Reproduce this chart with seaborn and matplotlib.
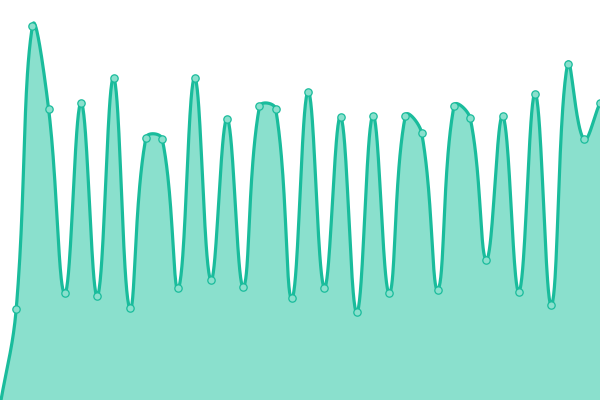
import numpy as np
import pandas as pd
import matplotlib
matplotlib.use("Agg")
import matplotlib.pyplot as plt
import seaborn as sns

# values (0-100 scale), one per step
steps = list(range(38))
values = [-1.5, 22.8, 93.5, 72.7, 26.7, 74.3, 26, 80.5, 22.9, 65.6,
          65.3, 27.9, 80.5, 30, 70.3, 28.3, 73.4, 72.8, 25.4, 77.1,
          28.1, 70.8, 21.9, 71.1, 26.7, 71.1, 66.8, 27.6, 73.6, 70.4,
          35.1, 71, 27.1, 76.6, 23.7, 84, 65.2, 74.3]

line_color = "#1abc9c"
fill_color = "#8ae0cd"

W, H = 600, 400
x_max, y_max = 37, 100


def spline_curve(x, y, tension=0.4, n=40):
    # bezier spline like chart.js (control points from distances in pixel space)
    sx = W / x_max
    sy = H / y_max
    px = np.asarray(x, float) * sx
    py = np.asarray(y, float) * sy
    cps = []
    for i in range(len(px)):
        pi = max(i - 1, 0)
        ni = min(i + 1, len(px) - 1)
        d01 = np.hypot(px[i] - px[pi], py[i] - py[pi])
        d12 = np.hypot(px[ni] - px[i], py[ni] - py[i])
        tot = d01 + d12
        s01 = d01 / tot if tot else 0
        s12 = d12 / tot if tot else 0
        fa, fb = tension * s01, tension * s12
        dx, dy = px[ni] - px[pi], py[ni] - py[pi]
        cps.append(((px[i] - fa * dx, py[i] - fa * dy),
                    (px[i] + fb * dx, py[i] + fb * dy)))
    t = np.linspace(0, 1, n, endpoint=False)[:, None]
    out = []
    for i in range(len(px) - 1):
        p0 = np.array([px[i], py[i]])
        p1 = np.array(cps[i][1])
        p2 = np.array(cps[i + 1][0])
        p3 = np.array([px[i + 1], py[i + 1]])
        seg = ((1 - t)**3 * p0 + 3 * (1 - t)**2 * t * p1
               + 3 * (1 - t) * t**2 * p2 + t**3 * p3)
        out.append(seg)
    out.append(np.array([[px[-1], py[-1]]]))
    out = np.concatenate(out)
    return out[:, 0] / sx, out[:, 1] / sy


cx, cy = spline_curve(steps, values)
curve = pd.DataFrame({"step": cx, "value": cy})
points = pd.DataFrame({"step": steps, "value": values})

sns.set_style("white")
fig = plt.figure(figsize=(6, 4), dpi=100)
ax = fig.add_axes([0, 0, 1, 1])

ax.fill_between(curve["step"], curve["value"], -5, color=fill_color, lw=0)
sns.lineplot(data=curve, x="step", y="value", ax=ax, color=line_color,
             linewidth=2.3, sort=False)
sns.scatterplot(data=points, x="step", y="value", ax=ax, s=28,
                color=fill_color, edgecolor=line_color, linewidth=0.9,
                zorder=5)

ax.set_xlim(0, x_max)
ax.set_ylim(0, y_max)
ax.set_axis_off()

fig.savefig("out.png", dpi=100)
